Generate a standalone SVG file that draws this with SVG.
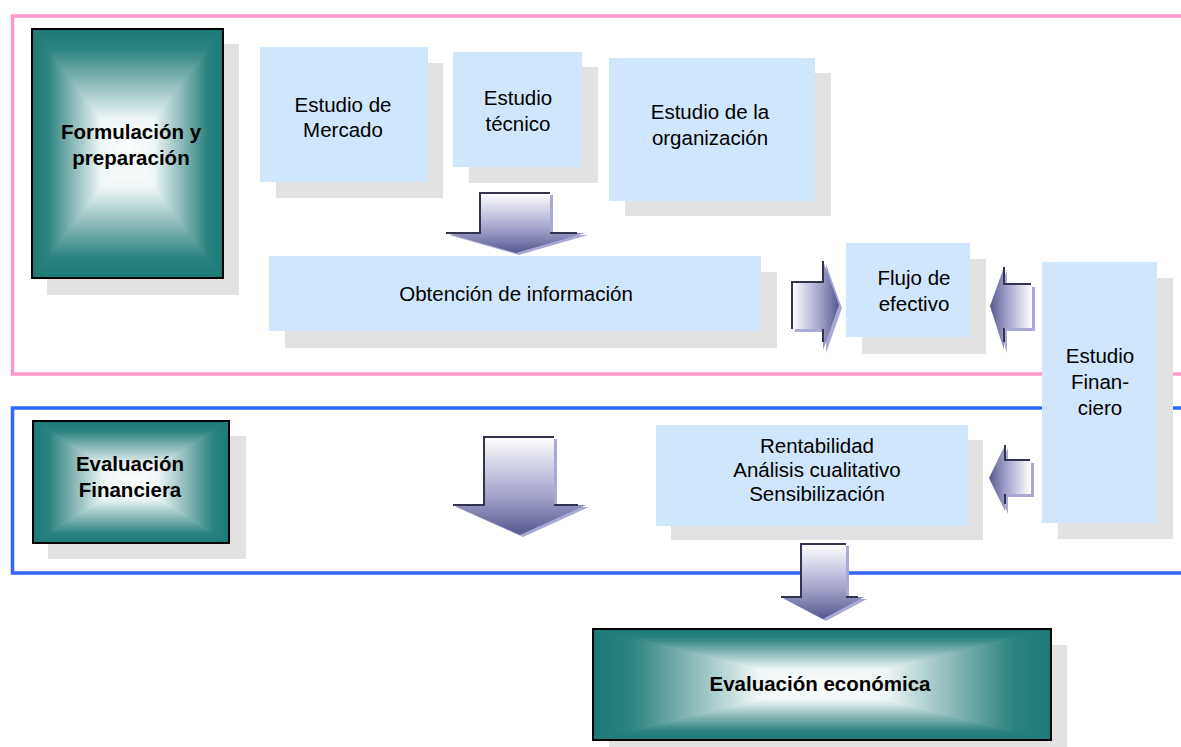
<svg xmlns="http://www.w3.org/2000/svg" width="1181" height="747" viewBox="0 0 1181 747">
  <style>
    .frame-pink { fill: none; stroke: #ff99cc; stroke-width: 3.5; }
    .frame-blue { fill: none; stroke: #3366ff; stroke-width: 3.5; }
    .shadow { fill: #e2e2e2; }
    .study { fill: #d0e6fc; }
    .border { fill: none; stroke: #000000; stroke-width: 2; }
    .txt { font-family: "Liberation Sans", Arial, sans-serif; font-size: 20.5px; fill: #000000; text-anchor: middle; }
    .bold { font-weight: bold; }
    .arrow-shadow { fill: #a9a9d4; }
    .arrow-edge { fill: none; stroke: #33334f; stroke-width: 2; }
  </style>
  <defs>
    <!-- rectangular "path" gradient built from a vertical band plus side triangles -->
    <linearGradient id="tealV" x1="0" y1="0" x2="0" y2="1">
      <stop offset="0" stop-color="#1c7a76"/>
      <stop offset="0.08" stop-color="#2a827e"/>
      <stop offset="0.36" stop-color="#eef5f5"/>
      <stop offset="0.5" stop-color="#ffffff"/>
      <stop offset="0.64" stop-color="#eef5f5"/>
      <stop offset="0.92" stop-color="#2a827e"/>
      <stop offset="1" stop-color="#1c7a76"/>
    </linearGradient>
    <linearGradient id="tealL" x1="0" y1="0" x2="1" y2="0">
      <stop offset="0" stop-color="#1c7a76"/>
      <stop offset="0.16" stop-color="#2a827e"/>
      <stop offset="0.72" stop-color="#eef5f5"/>
      <stop offset="1" stop-color="#ffffff"/>
    </linearGradient>
    <linearGradient id="tealR" x1="1" y1="0" x2="0" y2="0">
      <stop offset="0" stop-color="#1c7a76"/>
      <stop offset="0.16" stop-color="#2a827e"/>
      <stop offset="0.72" stop-color="#eef5f5"/>
      <stop offset="1" stop-color="#ffffff"/>
    </linearGradient>
    <!-- block arrow fills -->
    <linearGradient id="arrDown" x1="0" y1="0" x2="0" y2="1">
      <stop offset="0" stop-color="#ffffff"/>
      <stop offset="0.6" stop-color="#a2a2cc"/>
      <stop offset="1" stop-color="#56598f"/>
    </linearGradient>
    <linearGradient id="arrRight" x1="0" y1="0" x2="1" y2="0">
      <stop offset="0" stop-color="#ffffff"/>
      <stop offset="0.6" stop-color="#a2a2cc"/>
      <stop offset="1" stop-color="#56598f"/>
    </linearGradient>
    <linearGradient id="arrLeft" x1="1" y1="0" x2="0" y2="0">
      <stop offset="0" stop-color="#ffffff"/>
      <stop offset="0.6" stop-color="#a2a2cc"/>
      <stop offset="1" stop-color="#56598f"/>
    </linearGradient>
  </defs>

  <rect width="1181" height="747" fill="#ffffff"/>

  <!-- section frames -->
  <g id="frames">
    <polyline class="frame-pink" points="1190,16 12.5,16 12.5,374 1190,374"/>
    <polyline class="frame-blue" points="1190,408 12.5,408 12.5,573 1190,573"/>
  </g>

  <!-- Formulación y preparación -->
  <g id="formulacion">
    <rect class="shadow" x="47" y="44" width="192" height="251"/>
    <rect x="32" y="29" width="191" height="249" fill="url(#tealV)"/>
    <polygon points="32,29 127.5,153.5 32,278" fill="url(#tealL)"/>
    <polygon points="223,29 127.5,153.5 223,278" fill="url(#tealR)"/>
    <rect class="border" x="32" y="29" width="191" height="249"/>
    <text class="txt bold" x="131" y="139">Formulación y</text>
    <text class="txt bold" x="131" y="165">preparación</text>
  </g>

  <g id="estudio-mercado">
    <rect class="shadow" x="276" y="63" width="167" height="135"/>
    <rect class="study" x="260" y="47" width="168" height="135"/>
    <text class="txt" x="343" y="112">Estudio de</text>
    <text class="txt" x="343" y="137">Mercado</text>
  </g>

  <g id="estudio-tecnico">
    <rect class="shadow" x="469" y="67" width="129" height="116"/>
    <rect class="study" x="453" y="52" width="129" height="115"/>
    <text class="txt" x="518" y="105">Estudio</text>
    <text class="txt" x="518" y="131">técnico</text>
  </g>

  <g id="estudio-organizacion">
    <rect class="shadow" x="625" y="73" width="206" height="143"/>
    <rect class="study" x="609" y="58" width="206" height="143"/>
    <text class="txt" x="710" y="119">Estudio de la</text>
    <text class="txt" x="710" y="145">organización</text>
  </g>

  <g id="obtencion">
    <rect class="shadow" x="285" y="272" width="492" height="76"/>
    <rect class="study" x="269" y="256" width="492" height="75"/>
    <text class="txt" x="516" y="301">Obtención de información</text>
  </g>

  <g id="flujo">
    <rect class="shadow" x="862" y="259" width="124" height="95"/>
    <rect class="study" x="846" y="243" width="124" height="94"/>
    <text class="txt" x="914" y="285">Flujo de</text>
    <text class="txt" x="914" y="311">efectivo</text>
  </g>

  <g id="estudio-financiero">
    <rect class="shadow" x="1058" y="278" width="115" height="261"/>
    <rect class="study" x="1042" y="262" width="115" height="261"/>
    <text class="txt" x="1100" y="363">Estudio</text>
    <text class="txt" x="1100" y="389">Finan-</text>
    <text class="txt" x="1100" y="415">ciero</text>
  </g>

  <!-- Evaluación Financiera -->
  <g id="evaluacion-financiera">
    <rect class="shadow" x="48" y="436" width="198" height="123"/>
    <rect x="33" y="421" width="196" height="122" fill="url(#tealV)"/>
    <polygon points="33,421 131,482 33,543" fill="url(#tealL)"/>
    <polygon points="229,421 131,482 229,543" fill="url(#tealR)"/>
    <rect class="border" x="33" y="421" width="196" height="122"/>
    <text class="txt bold" x="130" y="471">Evaluación</text>
    <text class="txt bold" x="130" y="497">Financiera</text>
  </g>

  <g id="rentabilidad">
    <rect class="shadow" x="671" y="440" width="312" height="100"/>
    <rect class="study" x="656" y="425" width="312" height="101"/>
    <text class="txt" x="817" y="453">Rentabilidad</text>
    <text class="txt" x="817" y="477">Análisis cualitativo</text>
    <text class="txt" x="817" y="501">Sensibilización</text>
  </g>

  <!-- Evaluación económica -->
  <g id="evaluacion-economica">
    <rect class="shadow" x="609" y="645" width="458" height="102"/>
    <rect x="593" y="629" width="458" height="111" fill="url(#tealV)"/>
    <polygon points="593,629 822,684.5 593,740" fill="url(#tealL)"/>
    <polygon points="1051,629 822,684.5 1051,740" fill="url(#tealR)"/>
    <rect class="border" x="593" y="629" width="458" height="111"/>
    <text class="txt bold" x="820" y="691">Evaluación económica</text>
  </g>

  <!-- block arrows -->
  <g id="connectors">
    <!-- studies down to information gathering -->
    <g id="arrow-down-1">
      <polygon class="arrow-shadow" points="483,195 553,195 553,235 588,235 519,255 449,235 483,235"/>
      <polygon fill="url(#arrDown)" points="480,193 550,193 550,233 585,233 516,253 446,233 480,233"/>
      <polyline class="arrow-edge" points="446,233 480,233 480,193 550,193"/>
      <line class="arrow-edge" x1="550" y1="233" x2="577" y2="233"/>
    </g>
    <!-- information to cash flow -->
    <g id="arrow-right">
      <polygon class="arrow-shadow" points="795,285 826,285 826,264 842,308 826,353 826,332 795,332"/>
      <polygon fill="url(#arrRight)" points="792,282 823,282 823,261 839,305 823,350 823,329 792,329"/>
      <polyline class="arrow-edge" points="823,261 823,282 792,282 792,329"/>
      <line class="arrow-edge" x1="823" y1="329" x2="823" y2="342"/>
    </g>
    <!-- financial study to cash flow -->
    <g id="arrow-left-1">
      <polygon class="arrow-shadow" points="993,309 1007,270 1007,287 1035,287 1035,331 1007,331 1007,353"/>
      <polygon fill="url(#arrLeft)" points="990,306 1004,267 1004,284 1032,284 1032,328 1004,328 1004,350"/>
      <polyline class="arrow-edge" points="1004,267 1004,284 1031,284"/>
      <line class="arrow-edge" x1="1004" y1="328" x2="1004" y2="342"/>
    </g>
    <!-- formulation down to financial evaluation -->
    <g id="arrow-down-2">
      <polygon class="arrow-shadow" points="487,439 557,439 557,507 589,507 523,537 456,507 487,507"/>
      <polygon fill="url(#arrDown)" points="484,437 554,437 554,505 586,505 520,535 453,505 484,505"/>
      <polyline class="arrow-edge" points="453,505 484,505 484,437 554,437"/>
      <line class="arrow-edge" x1="554" y1="505" x2="578" y2="505"/>
    </g>
    <!-- financial study to profitability analysis -->
    <g id="arrow-left-2">
      <polygon class="arrow-shadow" points="992,481 1008,448 1008,463 1034,463 1034,497 1008,497 1008,514"/>
      <polygon fill="url(#arrLeft)" points="989,478 1005,445 1005,460 1031,460 1031,494 1005,494 1005,511"/>
      <polyline class="arrow-edge" points="1005,445 1005,460 1030,460"/>
      <line class="arrow-edge" x1="1005" y1="494" x2="1005" y2="504"/>
    </g>
    <!-- profitability analysis down to economic evaluation -->
    <g id="arrow-down-3">
      <polygon class="arrow-shadow" points="804,546 849,546 849,599 867,599 826,621 784,599 804,599"/>
      <polygon fill="url(#arrDown)" points="801,544 846,544 846,597 864,597 823,619 781,597 801,597"/>
      <polyline class="arrow-edge" points="781,597 801,597 801,544 846,544"/>
      <line class="arrow-edge" x1="846" y1="597" x2="858" y2="597"/>
    </g>
  </g>
</svg>
